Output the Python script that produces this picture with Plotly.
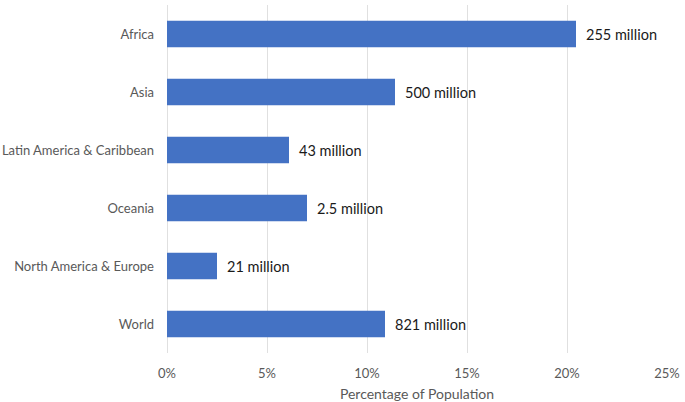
import plotly.graph_objects as go

regions = ["Africa", "Asia", "Latin America & Caribbean", "Oceania", "North America & Europe", "World"]
percent = [20.45, 11.4, 6.1, 7.0, 2.5, 10.9]
labels = ["255 million", "500 million", "43 million", "2.5 million", "21 million", "821 million"]
ticks = [0, 5, 10, 15, 20, 25]
tick_text = ["0%", "5%", "10%", "15%", "20%", "25%"]

FONT = "Lato, 'Open Sans', sans-serif"

fig = go.Figure(go.Bar(
    x=percent, y=regions, orientation="h",
    marker=dict(color="#4472C4", line=dict(width=0)),
    width=0.46,
))

for r, p, t in zip(regions, percent, labels):
    fig.add_annotation(x=p, y=r, text=t, showarrow=False, xanchor="left",
                       xshift=8, font=dict(family=FONT, size=14.5, color="#1a1a1a"))

fig.update_layout(
    width=685, height=402,
    margin=dict(l=167, r=18, t=5, b=49),
    paper_bgcolor="white", plot_bgcolor="white",
    showlegend=False,
    font=dict(family=FONT, size=13, color="#595959"),
    xaxis=dict(range=[0, 25], tickvals=ticks, ticktext=tick_text,
               automargin=False,
               showgrid=True, gridcolor="#e0e0e0", gridwidth=1,
               zeroline=True, zerolinecolor="#e0e0e0", zerolinewidth=1,
               showline=False, ticks="", ticklabelstandoff=11,
               title=dict(text="Percentage of Population", standoff=9,
                          font=dict(family=FONT, size=14, color="#595959")),
               tickfont=dict(family=FONT, size=13, color="#595959")),
    yaxis=dict(categoryorder="array", categoryarray=regions[::-1],
               automargin=False,
               showgrid=False, showline=False, ticks="",
               ticklabelstandoff=12,
               tickfont=dict(family=FONT, size=13, color="#595959")),
)

fig.write_html("out.html", config={"displayModeBar": False},
               post_script="document.body.style.margin='0';document.body.style.padding='0';")
